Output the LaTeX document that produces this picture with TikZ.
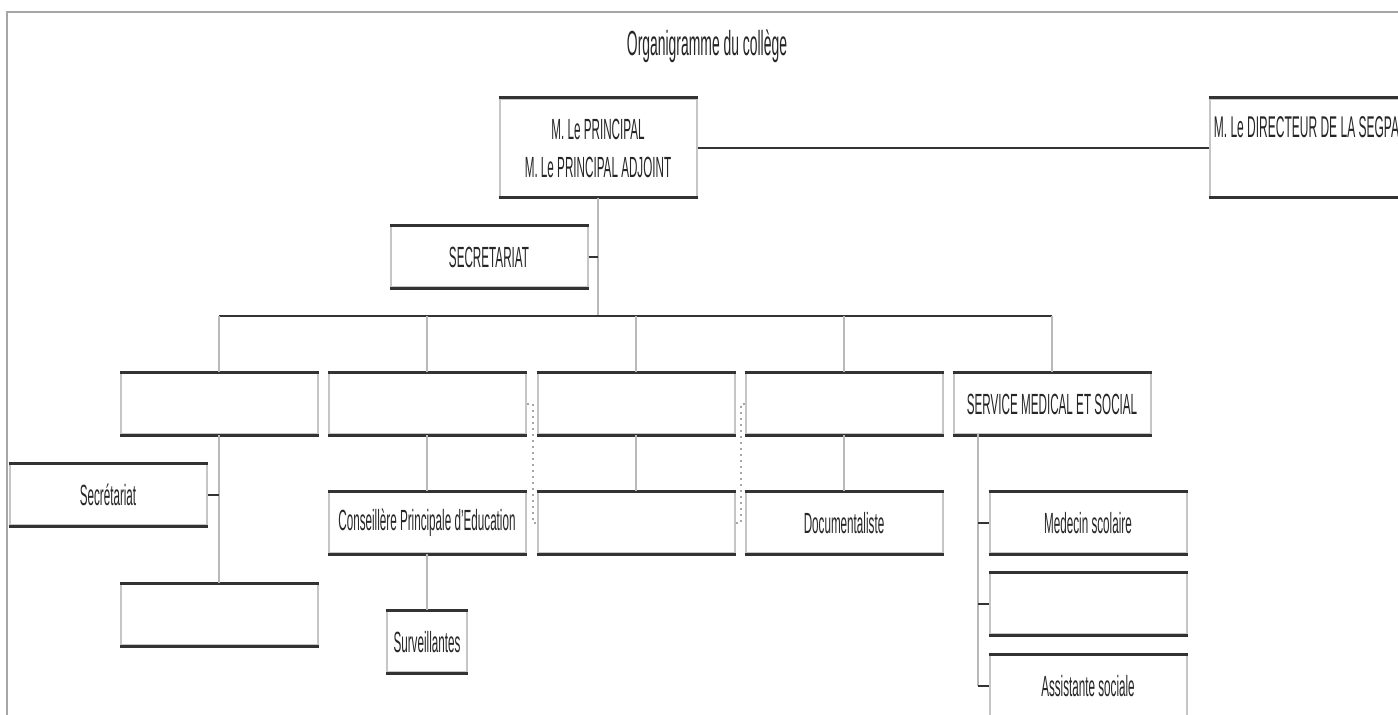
\documentclass[tikz,border=0pt]{standalone}
\usepackage{fontspec}
\setmainfont{Liberation Sans}[FakeStretch=0.40]
\usetikzlibrary{calc}

\begin{document}
\begin{tikzpicture}
[x=0.5pt,y=-0.5pt,
  boxDecorate/.style={shape=rectangle,draw=gray!45,line width=1pt,
    minimum width=98.5pt,minimum height=30.5pt,inner sep=1pt,
    font=\fontsize{14.6}{19}\selectfont,text=black!85,align=center},
  edgeDecorate/.style={-,draw=black!80,line width=1.5pt},
  hLineDecorate/.style={-,draw=black!80,line width=1.3pt},
  vLineDecorate/.style={-,draw=gray!55,line width=1pt},
  dotLineDecorate/.style={-,draw=gray!70,line width=1pt,dotted}]
\useasboundingbox (0,0) rectangle (1398,715);
\clip (0,0) rectangle (1398,715);
%% frame and title
\draw[gray!70,line width=0.6pt] (7,12) rectangle (1430,760);
\node (title) at (707,46) [font=\fontsize{17.4}{20}\selectfont,text=black!85]
  {Organigramme du collège};
%% top boxes
\node (prin) at (598,148) [boxDecorate,minimum height=49pt]
  {M. Le PRINCIPAL\\M. Le PRINCIPAL ADJOINT};
\node (dir) at (1308,148) [boxDecorate,minimum height=49pt] {};
\node (dirlabel) at ($(dir.north west)+(5,29)$) [anchor=west,inner sep=0pt,
  font=\fontsize{15}{19}\selectfont,text=black!85] {M. Le DIRECTEUR DE LA SEGPA};
\node (secr) at (489,257) [boxDecorate] {SECRETARIAT};
%% service boxes
\foreach \nodename/\x/\y/\txt in {
  p1/219/404/{}, p2/427/404/{}, p3/636/404/{}, p4/844/404/{},
  service/1052/404/{SERVICE MEDICAL ET SOCIAL},
  p1sec/108/495/{Secrétariat}, p1b/219/615/{},
  cpe/427/523/{Conseillère Principale d'Education},
  p3b/636/523/{}, doc/844/523/{Documentaliste},
  med/1088/523/{Medecin scolaire}, medb/1088/604/{},
  soc/1088/686/{Assistante sociale}}
{
  \node (\nodename) at (\x,\y) [boxDecorate] {\txt};
}
\node (surv) at (427,642) [boxDecorate,minimum width=40pt] {Surveillantes};
%% darker top and bottom edges
\foreach \nodename in {prin,dir,secr,p1,p2,p3,p4,service,p1sec,p1b,cpe,
  p3b,doc,med,medb,soc,surv}
{
  \draw[edgeDecorate] (\nodename.north west) -- (\nodename.north east)
    (\nodename.south west) -- (\nodename.south east);
}
%% edges or lines
\coordinate (bus) at (598,316);
\coordinate (spine) at (978,434);
\draw[hLineDecorate] (prin.east) -- (dir.west);
\draw[vLineDecorate] (prin.south) -- (bus);
\draw[hLineDecorate] (secr.east) -- (secr.east -| prin.south);
\draw[hLineDecorate] (p1.north |- bus) -- (service.north |- bus);
\foreach \nodename in {p1,p2,p3,p4,service}
{
  \draw[vLineDecorate] (\nodename.north |- bus) -- (\nodename.north);
}
\draw[vLineDecorate] (p1.south) -- (p1b.north);
\draw[hLineDecorate] (p1sec.east) -- (p1sec.east -| p1.south);
\foreach \startnode/\endnode in {p2/cpe, cpe/surv, p3/p3b, p4/doc}
{
  \draw[vLineDecorate] (\startnode.south) -- (\endnode.north);
}
\draw[dotLineDecorate] (p2.east) -- ++(6,0) |- (p3b.west);
\draw[dotLineDecorate] (p3b.east) -- ++(5,0) |- (p4.west);
\draw[vLineDecorate] (spine) -- (spine |- soc.west);
\foreach \endnode in {med,medb,soc}
{
  \draw[hLineDecorate] (spine |- \endnode.west) -- (\endnode.west);
}
\end{tikzpicture}
\end{document}
